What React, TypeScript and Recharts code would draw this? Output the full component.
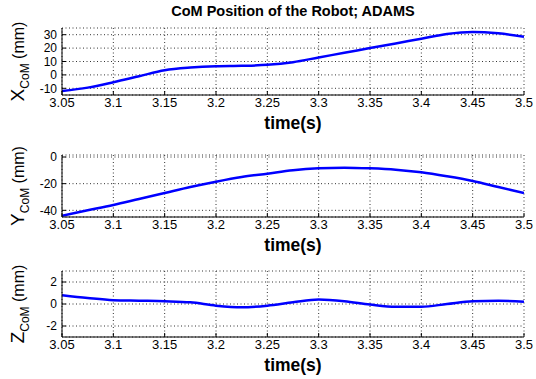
import { LineChart, Line, XAxis, YAxis, CartesianGrid } from "recharts";

const time = [
  3.05, 3.075, 3.1, 3.125, 3.15, 3.175, 3.2, 3.225, 3.25, 3.275, 3.3, 3.325,
  3.35, 3.375, 3.4, 3.425, 3.45, 3.475, 3.5,
];
const xCom = [
  -12, -9.5, -5.5, -1, 3.5, 5.5, 6.5, 6.8, 7.5, 9.5, 13, 16.5, 20, 23.5, 27,
  30.5, 32, 31, 28.5,
];
const yCom = [
  -44, -40, -36, -31.5, -27, -22.5, -18.5, -15, -12.5, -10, -8.5, -8, -8.5,
  -9.5, -11.5, -14.5, -18, -22.5, -27,
];
const zCom = [
  0.8, 0.55, 0.35, 0.3, 0.25, 0.15, -0.15, -0.3, -0.15, 0.15, 0.4, 0.25, -0.05,
  -0.25, -0.25, 0, 0.25, 0.3, 0.2,
];
const timeTicks = [3.05, 3.1, 3.15, 3.2, 3.25, 3.3, 3.35, 3.4, 3.45, 3.5];
const xTicks = [-10, 0, 10, 20, 30];
const yTicks = [-40, -20, 0];
const zTicks = [-2, 0, 2];

const W = 536;
const H = 379;
const FONT = "'Liberation Sans', Arial, Helvetica, sans-serif";

interface PanelProps {
  values: number[];
  letter: string;
  ticks: number[];
  domain: [number, number];
  top: number;
  bottom: number;
}

const fmt = (v: number) => String(Number(v.toFixed(2)));
const noTick = () => <g />;

function Panel({ values, letter, ticks, domain, top, bottom }: PanelProps) {
  const rows = time.map((t, i) => ({ t, v: values[i] }));
  const mid = (top + bottom) / 2;
  return (
    <div style={{ position: "absolute", left: 0, top: 0 }}>
      <LineChart
        width={W}
        height={H}
        data={rows}
        margin={{ top, right: 12, left: 0, bottom: H - bottom - 30 }}
      >
        <CartesianGrid
          stroke="#333"
          strokeDasharray="1 2.5"
          strokeWidth={1}
        />
        <XAxis
          dataKey="t"
          type="number"
          domain={[3.05, 3.5]}
          ticks={timeTicks}
          tickFormatter={fmt}
          allowDataOverflow
          height={30}
          axisLine={{ stroke: "#000" }}
          tickLine={{ stroke: "#000" }}
          tickSize={-4}
          tickMargin={7}
          tick={{ fill: "#000", fontSize: 13, fontFamily: FONT }}
          interval={0}
          label={{
            content: () => (
              <text
                x={293}
                y={bottom + 34}
                textAnchor="middle"
                fontFamily={FONT}
                fontWeight="bold"
                fontSize={17.5}
                fill="#000"
              >
                time(s)
              </text>
            ),
          }}
        />
        <XAxis
          xAxisId="top"
          orientation="top"
          dataKey="t"
          type="number"
          domain={[3.05, 3.5]}
          ticks={timeTicks}
          height={0}
          axisLine={{ stroke: "#000" }}
          tickLine={{ stroke: "#000" }}
          tickSize={-4}
          tick={noTick}
          interval={0}
        />
        <YAxis
          type="number"
          domain={domain}
          ticks={ticks}
          allowDataOverflow
          width={62}
          axisLine={{ stroke: "#000" }}
          tickLine={{ stroke: "#000" }}
          tickSize={-4}
          tickMargin={9}
          tick={{ fill: "#000", fontSize: 12, fontFamily: FONT }}
          interval={0}
          label={{
            content: () => (
              <text
                transform={`translate(24,${mid}) rotate(-90)`}
                textAnchor="middle"
                fontFamily={FONT}
                fill="#000"
              >
                <tspan fontSize={19}>{letter}</tspan>
                <tspan fontSize={12} dy={5}>
                  CoM
                </tspan>
                <tspan fontSize={16} dy={-5}>
                  {" (mm)"}
                </tspan>
              </text>
            ),
          }}
        />
        <YAxis
          yAxisId="right"
          orientation="right"
          type="number"
          domain={domain}
          ticks={ticks}
          width={0}
          axisLine={{ stroke: "#000" }}
          tickLine={{ stroke: "#000" }}
          tickSize={-4}
          tick={noTick}
          interval={0}
        />
        <Line
          dataKey="v"
          type="monotone"
          stroke="#0000ff"
          strokeWidth={2.5}
          dot={false}
          isAnimationActive={false}
        />
      </LineChart>
    </div>
  );
}

export default function App() {
  return (
    <div
      style={{
        position: "absolute",
        left: 0,
        top: 0,
        width: W,
        height: H,
        background: "#fff",
        overflow: "hidden",
      }}
    >
      <div
        style={{
          position: "absolute",
          left: 62,
          width: 462,
          top: 3,
          textAlign: "center",
          fontFamily: FONT,
          fontWeight: "bold",
          fontSize: 14.5,
          color: "#000",
        }}
      >
        CoM Position of the Robot; ADAMS
      </div>
      <Panel values={xCom} letter="X" ticks={xTicks} domain={[-15, 35]} top={28} bottom={95} />
      <Panel values={yCom} letter="Y" ticks={yTicks} domain={[-45, 1.5]} top={155} bottom={217} />
      <Panel values={zCom} letter="Z" ticks={zTicks} domain={[-3, 3]} top={271} bottom={337} />
    </div>
  );
}
